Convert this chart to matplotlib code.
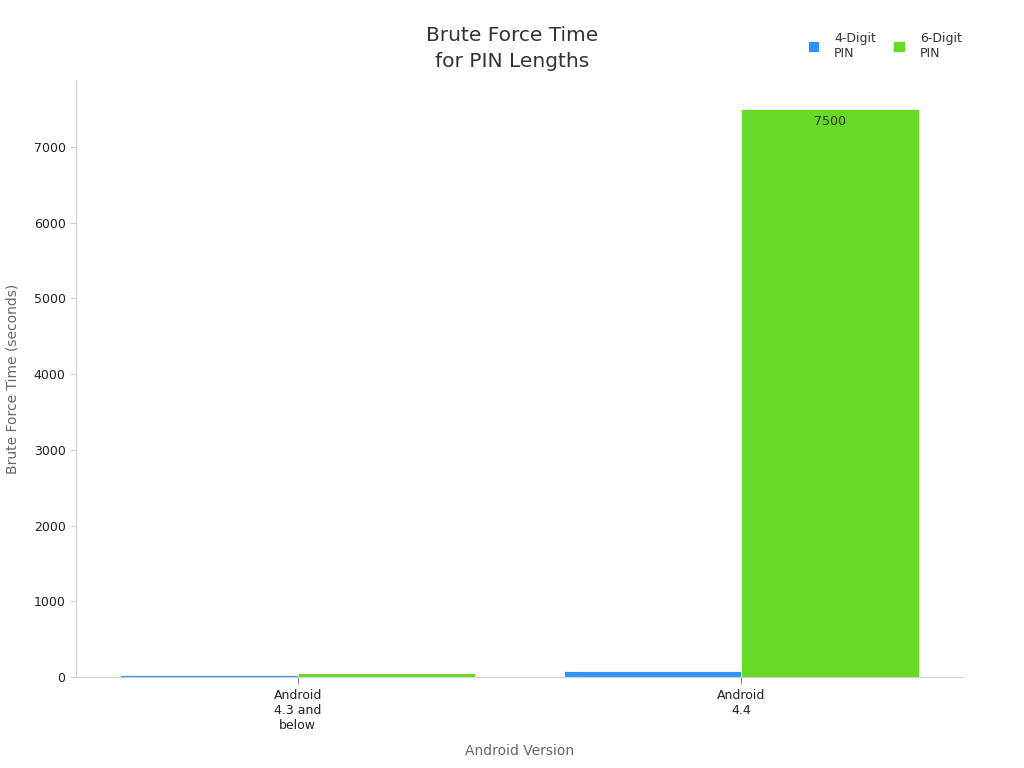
import matplotlib
matplotlib.use("Agg")
import matplotlib.pyplot as plt
import numpy as np

categories = ["Android\n4.3 and\nbelow", "Android\n4.4"]
series_names = ["4-Digit\nPIN", "6-Digit\nPIN"]
four_digit = [30, 75]
six_digit = [50, 7500]
colors = ["#2E93FA", "#66DA26"]

plt.rcParams['font.family'] = ['DejaVu Sans']
fig = plt.figure(figsize=(10.24, 7.68), dpi=100)
ax = fig.add_axes([0.0742, 0.1185, 0.8662, 0.7773])

x = np.arange(len(categories))
w = 0.4
for i, (vals, name, c) in enumerate(zip([four_digit, six_digit], series_names, colors)):
    bars = ax.bar(x + (i - 0.5) * w, vals, w, color=c, edgecolor="white", linewidth=0.6,
                  label=name, zorder=2)
    for b, v in zip(bars, vals):
        t = ax.annotate(f"{v}", xy=(b.get_x() + b.get_width() / 2, v), xytext=(0, -4),
                        textcoords="offset points", ha="center", va="top",
                        fontsize=9, color="#333333", zorder=3)
        t.set_clip_path(b)

ax.set_xlim(-0.5, 1.5)
ax.set_ylim(0, 7885)
ax.set_xticks(x)
ax.set_xticklabels(categories, fontsize=9, color="#222222")
ax.set_yticks([0, 1000, 2000, 3000, 4000, 5000, 6000, 7000])
ax.tick_params(axis='y', labelsize=9, colors="#222222", length=4, color="#cccccc")
ax.tick_params(axis='x', length=5, color="#888888")
for s in ["top", "right"]:
    ax.spines[s].set_visible(False)
for s in ["left", "bottom"]:
    ax.spines[s].set_color("#d0d0d0")
ax.set_xlabel("Android Version", fontsize=10, color="#666666", labelpad=9)
ax.set_ylabel("Brute Force Time (seconds)", fontsize=10, color="#666666", labelpad=10)
fig.text(0.5, 0.908, "Brute Force Time\nfor PIN Lengths", ha="center", va="bottom",
         fontsize=14.5, color="#333333", linespacing=1.45)
leg = fig.legend(loc="upper right", bbox_to_anchor=(0.950, 0.973), ncol=2, frameon=False,
                 fontsize=9, handlelength=0.9, handleheight=0.9, columnspacing=1.4,
                 handletextpad=1.2)
for t in leg.get_texts():
    t.set_color("#333333")

fig.savefig("out.png", dpi=100)
